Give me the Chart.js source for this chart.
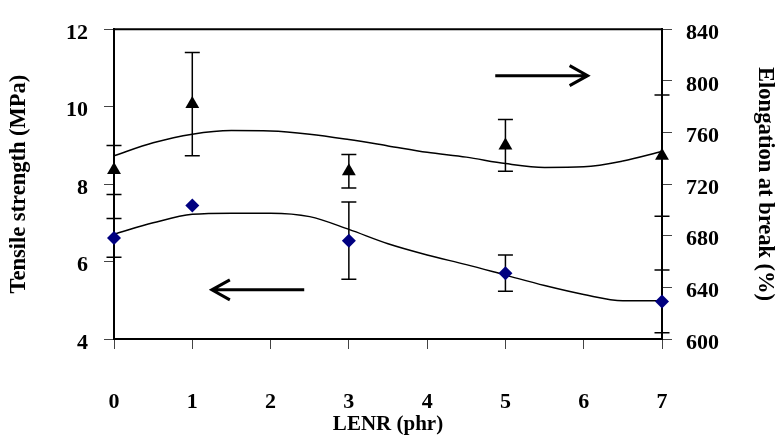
<!DOCTYPE html>
<html>
<head>
<meta charset="utf-8">
<title>LENR</title>
<script src="https://cdn.jsdelivr.net/npm/chart.js@4.4.1/dist/chart.umd.min.js"></script>
<style>
  body { margin: 0; background: #fff; }
  #grafico { width: 779px; height: 446px; }
</style>
</head>
<body>
<div id="grafico"><canvas id="lienzo"></canvas></div>
<script>
// datos
const lenr = [0, 1, 3, 5, 7];
const tensile = [6.61, 7.45, 6.54, 5.70, 4.97];
const tensileErr = [0.5, 0, 1.0, 0.47, 0.81];
const elongation = [731, 782, 730, 750, 742];
const elongationErr = [19, 40, 13, 20, 47];

// curvas de tendencia (leidas cada 0.5 phr)
const trendX = [0, 0.5, 1, 1.5, 2, 2.5, 3, 3.5, 4, 4.5, 5, 5.5, 6, 6.5, 7];
const tensileTrend = [6.71, 7.0, 7.22, 7.25, 7.25, 7.16, 6.83, 6.46, 6.17, 5.92, 5.65, 5.38, 5.15, 4.99, 4.99];
const elongationTrend = [742, 752, 758.7, 761.5, 761.2, 758.7, 754.5, 749.6, 744.6, 740.9, 735.9, 732.9, 733.4, 737.9, 745.3];

const xTicks = [0, 1, 2, 3, 4, 5, 6, 7];
const leftTicks = [4, 6, 8, 10, 12];
const rightTicks = [600, 640, 680, 720, 760, 800, 840];

// flechas: [x inicio, x fin, y, eje]
const arrows = [
  [2.43, 1.25, 5.27, "y"],
  [4.87, 6.05, 804, "y1"],
];

const fuente = "'Liberation Serif', 'Times New Roman', serif";

function puntos(xs, ys) {
  return xs.map((x, i) => ({ x: x, y: ys[i] }));
}

const errorBars = {
  id: "errorBars",
  beforeDatasetsDraw(chart) {
    const ctx = chart.ctx;
    const x = chart.scales.x;
    const area = chart.chartArea;
    ctx.save();
    ctx.strokeStyle = "#000";
    ctx.lineWidth = 2;
    // borde superior del area
    ctx.beginPath();
    ctx.moveTo(area.left, area.top);
    ctx.lineTo(area.right, area.top);
    ctx.stroke();

    ctx.lineWidth = 1.5;
    const series = [
      [tensile, tensileErr, chart.scales.y],
      [elongation, elongationErr, chart.scales.y1],
    ];
    series.forEach(function (s) {
      lenr.forEach(function (v, i) {
        if (!s[1][i]) return;
        const px = x.getPixelForValue(v);
        const top = s[2].getPixelForValue(s[0][i] + s[1][i]);
        const bot = s[2].getPixelForValue(s[0][i] - s[1][i]);
        ctx.beginPath();
        ctx.moveTo(px, top);
        ctx.lineTo(px, bot);
        ctx.moveTo(px - 7.5, top);
        ctx.lineTo(px + 7.5, top);
        ctx.moveTo(px - 7.5, bot);
        ctx.lineTo(px + 7.5, bot);
        ctx.stroke();
      });
    });

    // flechas
    ctx.lineWidth = 3;
    arrows.forEach(function (a) {
      const x0 = x.getPixelForValue(a[0]);
      const x1 = x.getPixelForValue(a[1]);
      const py = chart.scales[a[3]].getPixelForValue(a[2]);
      const dir = x1 > x0 ? -1 : 1;
      ctx.beginPath();
      ctx.moveTo(x0, py);
      ctx.lineTo(x1, py);
      ctx.moveTo(x1 + dir * 18, py - 10);
      ctx.lineTo(x1, py);
      ctx.lineTo(x1 + dir * 18, py + 10);
      ctx.stroke();
    });
    ctx.restore();
  },
};

const config = {
  type: "line",
  data: {
    datasets: [
      {
        label: "Tensile strength",
        data: puntos(lenr, tensile),
        yAxisID: "y",
        showLine: false,
        pointStyle: "rectRot",
        pointRadius: 7,
        pointBackgroundColor: "#000080",
        pointBorderWidth: 0,
        clip: false,
      },
      {
        label: "Elongation at break",
        data: puntos(lenr, elongation),
        yAxisID: "y1",
        showLine: false,
        pointStyle: "triangle",
        pointRadius: 8,
        pointBackgroundColor: "#000",
        pointBorderWidth: 0,
        clip: false,
      },
      {
        label: "Tensile trend",
        data: puntos(trendX, tensileTrend),
        yAxisID: "y",
        borderColor: "#000",
        borderWidth: 1.5,
        pointRadius: 0,
        cubicInterpolationMode: "monotone",
        clip: false,
      },
      {
        label: "Elongation trend",
        data: puntos(trendX, elongationTrend),
        yAxisID: "y1",
        borderColor: "#000",
        borderWidth: 1.5,
        pointRadius: 0,
        cubicInterpolationMode: "monotone",
        clip: false,
      },
    ],
  },
  options: {
    responsive: true,
    maintainAspectRatio: false,
    animation: false,
    layout: { padding: { top: 17, left: 0, right: 0, bottom: 0 } },
    plugins: {
      legend: { display: false },
      tooltip: { enabled: false },
    },
    scales: {
      x: {
        type: "linear",
        min: 0,
        max: 7,
        afterFit: (s) => { s.height = 107; },
        afterBuildTicks: (s) => { s.ticks = xTicks.map((v) => ({ value: v })); },
        grid: { drawOnChartArea: false, tickLength: 10, color: "#444" },
        border: { color: "#000", width: 2 },
        ticks: { color: "#000", padding: 40, font: { family: fuente, size: 22, weight: "bold" } },
        title: {
          display: true,
          text: "LENR (phr)",
          color: "#000",
          padding: { top: 0, bottom: 9 },
          font: { family: fuente, size: 21, weight: "bold" },
        },
      },
      y: {
        position: "left",
        min: 4,
        max: 12,
        afterFit: (s) => { s.width = 114; },
        afterBuildTicks: (s) => { s.ticks = leftTicks.map((v) => ({ value: v })); },
        grid: { drawOnChartArea: false, tickLength: 10, color: "#444" },
        border: { color: "#000", width: 2 },
        ticks: { color: "#000", padding: 16, labelOffset: 4, font: { family: fuente, size: 22, weight: "bold" } },
        title: {
          display: true,
          text: "Tensile strength (MPa)",
          color: "#000",
          padding: { top: 6, bottom: 0 },
          font: { family: fuente, size: 22.5, weight: "bold" },
        },
      },
      y1: {
        position: "right",
        min: 600,
        max: 840,
        afterFit: (s) => { s.width = 117; },
        afterBuildTicks: (s) => { s.ticks = rightTicks.map((v) => ({ value: v })); },
        grid: { drawOnChartArea: false, tickLength: 10, color: "#444" },
        border: { color: "#000", width: 2 },
        ticks: { color: "#000", padding: 14, labelOffset: 4, font: { family: fuente, size: 22, weight: "bold" } },
        title: {
          display: true,
          text: "Elongation at break (%)",
          color: "#000",
          padding: { top: 1, bottom: 0 },
          font: { family: fuente, size: 22.5, weight: "bold" },
        },
      },
    },
  },
  plugins: [errorBars],
};

new Chart(document.getElementById("lienzo"), config);
</script>
</body>
</html>
